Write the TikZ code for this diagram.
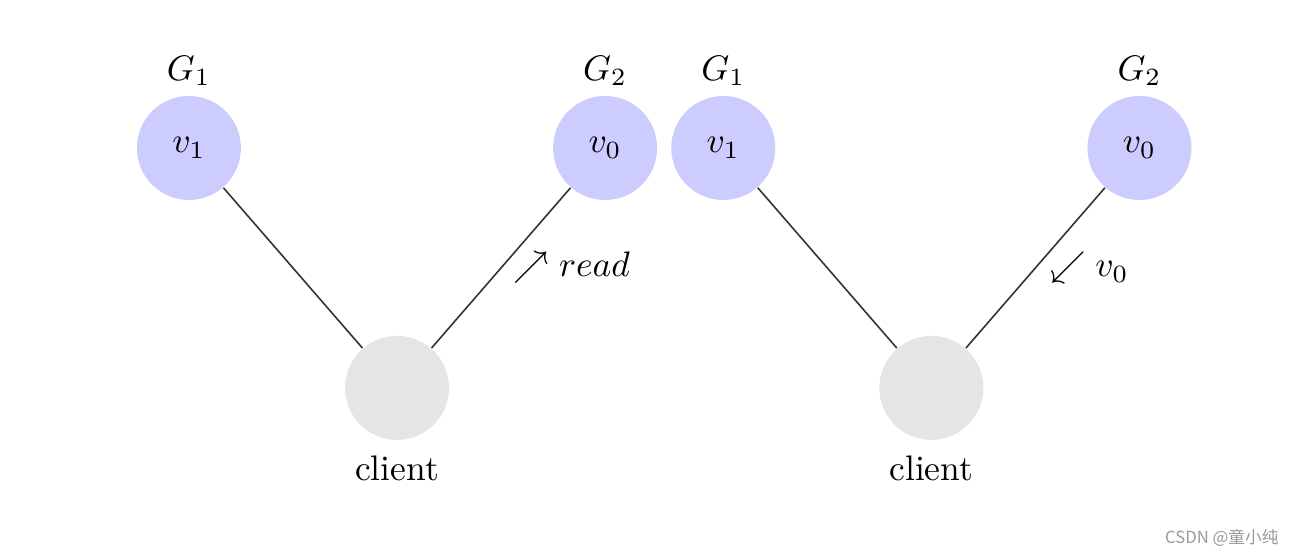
\documentclass[tikz,border=0pt]{standalone}
\usepackage{amsmath,amssymb}
\usepackage{xcolor}
\usepackage{fontspec}
\newfontfamily\cjkfont{Noto Sans CJK SC}
\usepackage{tikz}
\usetikzlibrary{positioning}
\definecolor{srvBlue}{HTML}{CCCCFF}
\definecolor{cliGray}{HTML}{E5E5E5}
\tikzset{
  server/.style={circle, fill=srvBlue, minimum size=1.03cm, inner sep=0pt, font=\normalsize},
  client/.style={circle, fill=cliGray, minimum size=1.03cm, inner sep=0pt},
  link/.style={draw=black!80, line width=0.45pt}
}
\begin{document}
\begin{tikzpicture}
\useasboundingbox (0,0) rectangle (12.82,-5.495);
\node[server, label={[yshift=-0.3mm]above:$G_1$}] (v1a) at (1.87,-1.465) {$v_1$};
\node[server, label={[yshift=-0.3mm]above:$G_2$}] (v0a) at (5.99,-1.465) {$v_0$};
\node[client, label={[yshift=-0.3mm]below:client}] (ca) at (3.93,-3.84) {};
\node[server, label={[yshift=-0.3mm]above:$G_1$}] (v1b) at (7.16,-1.465) {$v_1$};
\node[server, label={[yshift=-0.3mm]above:$G_2$}] (v0b) at (11.28,-1.465) {$v_0$};
\node[client, label={[yshift=-0.3mm]below:client}] (cb) at (9.22,-3.84) {};
\draw[link] (v1a) -- (ca);
\draw[link] (ca) -- node[right]{$\nearrow read$} (v0a);
\draw[link] (v1b) -- (cb);
\draw[link] (cb) -- node[right, xshift=0.2mm]{$\swarrow v_0$} (v0b);
\node[text=black!40, font=\cjkfont\fontsize{4.7}{5.5}\selectfont, anchor=east] (mark) at (12.78,-5.32) {CSDN @童小纯};
\end{tikzpicture}
\end{document}
